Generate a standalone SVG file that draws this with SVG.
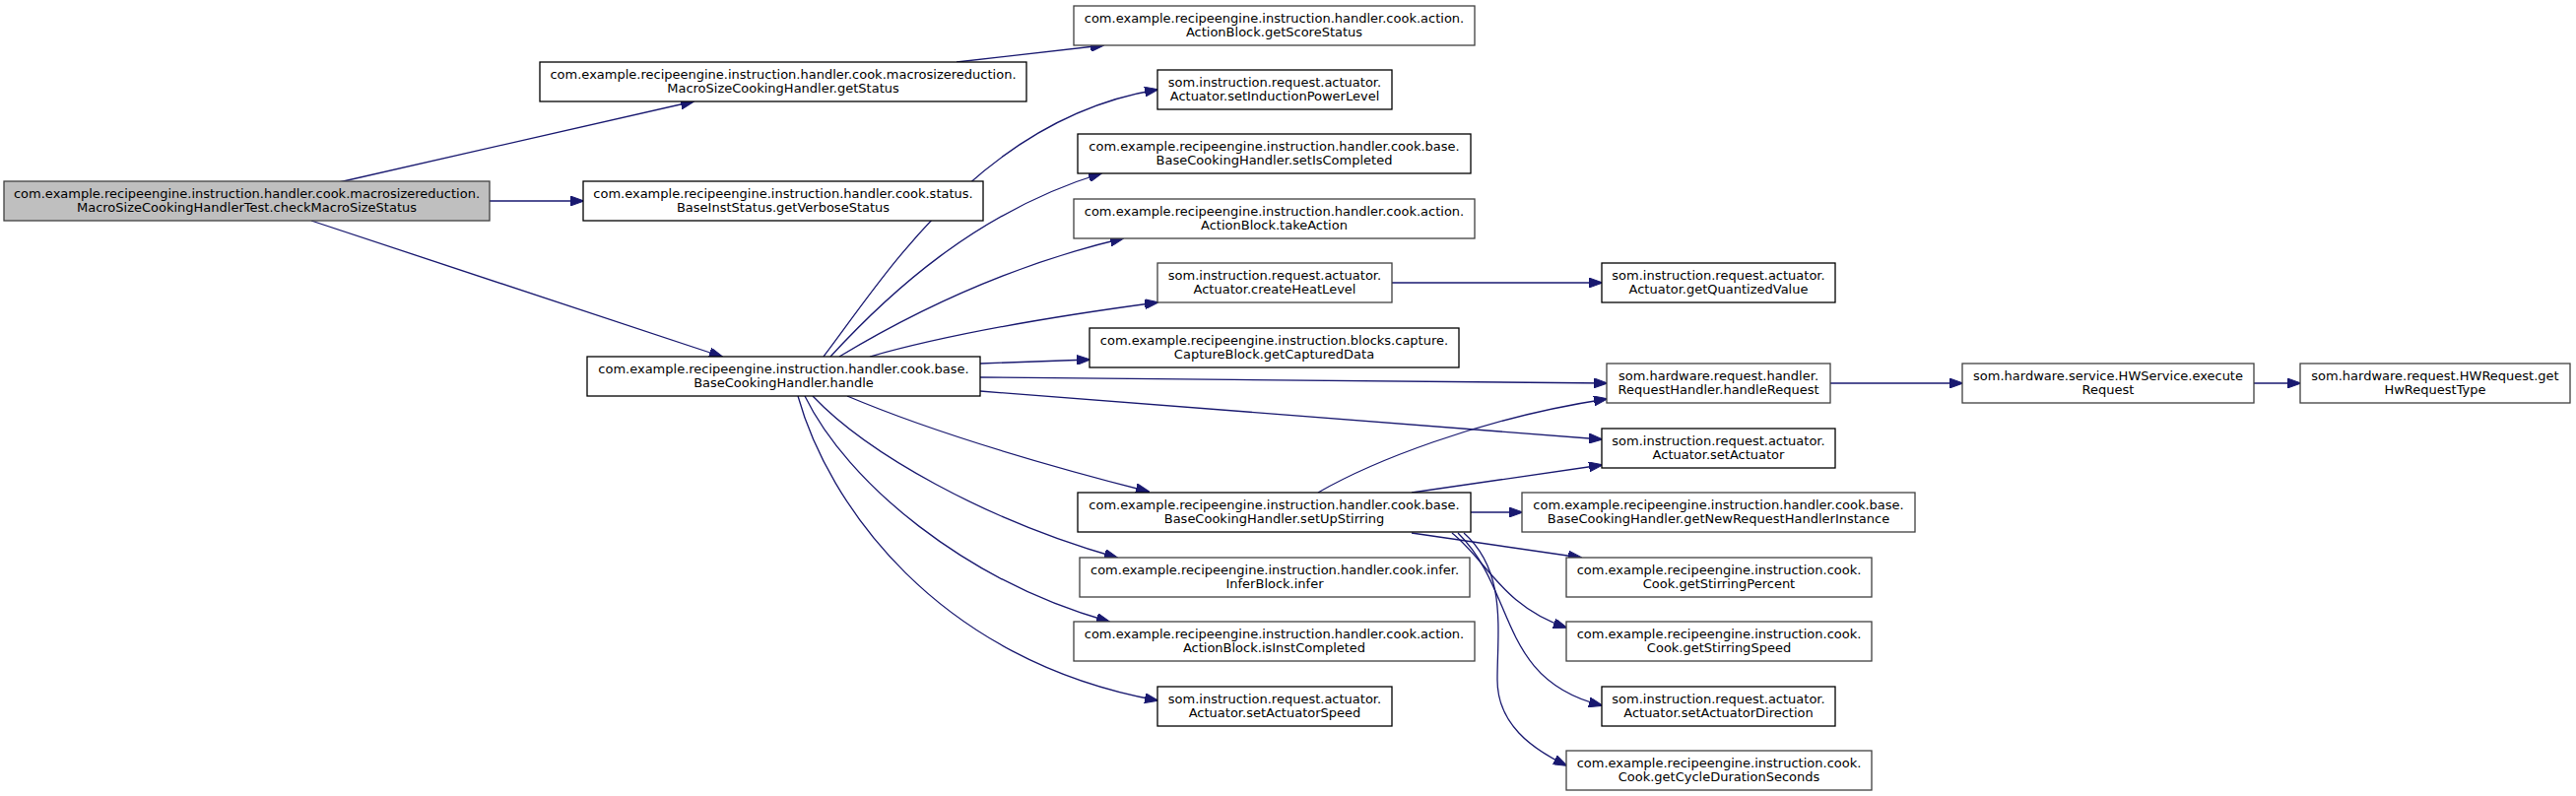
<svg xmlns="http://www.w3.org/2000/svg" width="2615" height="808" viewBox="0 0 2615 808">
<style>
.n rect{fill:#ffffff;stroke:#000000;stroke-width:1.3}
.n.g rect{stroke:#404040}
.n.root rect{fill:#bfbfbf;stroke:#404040}
.n text{font-family:"DejaVu Sans","Liberation Sans",sans-serif;font-size:13px;fill:#000000;text-anchor:middle}
#edges path{fill:none;stroke:#191970;stroke-width:1.3;marker-end:url(#arr)}
</style>
<defs>
<marker id="arr" markerUnits="userSpaceOnUse" markerWidth="14" markerHeight="10" refX="13" refY="5" orient="auto">
<path d="M0,0 L14,5 L0,10 Z" fill="#191970" stroke="#191970" stroke-width="1"/>
</marker>
</defs>
<rect x="0" y="0" width="2615" height="808" fill="#ffffff"/>
<g id="edges">
<path d="M344,185 L704,103"/>
<path d="M497,204 L592,204"/>
<path d="M316,224 L733,362"/>
<path d="M971,63 L1120,46"/>
<path d="M836,362 C895,285 995,120 1175,91"/>
<path d="M843,362 C900,300 990,215 1118,176"/>
<path d="M852,362 C930,315 1030,268 1140,242"/>
<path d="M883,362 C960,340 1070,321 1175,307"/>
<path d="M995,369 L1106,365"/>
<path d="M995,383 C1200,385 1450,387 1631,389"/>
<path d="M995,397 L1626,446"/>
<path d="M860,402 C950,440 1060,472 1166,499"/>
<path d="M825,402 C880,460 1000,528 1134,566"/>
<path d="M817,402 C860,490 980,590 1126,631"/>
<path d="M810,402 C840,510 950,670 1175,711"/>
<path d="M1413,287 L1626,287"/>
<path d="M1338,500 C1390,470 1500,425 1631,405"/>
<path d="M1433,500 L1626,472"/>
<path d="M1493,520 L1545,520"/>
<path d="M1433,541 L1605,566"/>
<path d="M1474,541 C1510,570 1525,615 1590,637"/>
<path d="M1480,541 C1540,600 1520,690 1626,716"/>
<path d="M1486,541 C1530,580 1520,640 1520,690 C1520,735 1555,760 1590,777"/>
<path d="M1858,389 L1992,389"/>
<path d="M2288,389 L2335,389"/>
</g>
<g id="n_root" class="n root"><rect x="4" y="184" width="493" height="40"/><text x="250.5" y="200.5">com.example.recipeengine.instruction.handler.cook.macrosizereduction.</text><text x="250.5" y="214.5">MacroSizeCookingHandlerTest.checkMacroSizeStatus</text></g>
<g id="n_getStatus" class="n"><rect x="548" y="63" width="494" height="40"/><text x="795" y="79.5">com.example.recipeengine.instruction.handler.cook.macrosizereduction.</text><text x="795" y="93.5">MacroSizeCookingHandler.getStatus</text></g>
<g id="n_getVerboseStatus" class="n"><rect x="592" y="184" width="406" height="40"/><text x="795" y="200.5">com.example.recipeengine.instruction.handler.cook.status.</text><text x="795" y="214.5">BaseInstStatus.getVerboseStatus</text></g>
<g id="n_handle" class="n"><rect x="596" y="362" width="399" height="40"/><text x="795.5" y="378.5">com.example.recipeengine.instruction.handler.cook.base.</text><text x="795.5" y="392.5">BaseCookingHandler.handle</text></g>
<g id="n_getScoreStatus" class="n g"><rect x="1090" y="6" width="407" height="40"/><text x="1293.5" y="22.5">com.example.recipeengine.instruction.handler.cook.action.</text><text x="1293.5" y="36.5">ActionBlock.getScoreStatus</text></g>
<g id="n_setInductionPowerLevel" class="n"><rect x="1175" y="71" width="238" height="40"/><text x="1294" y="87.5">som.instruction.request.actuator.</text><text x="1294" y="101.5">Actuator.setInductionPowerLevel</text></g>
<g id="n_setIsCompleted" class="n"><rect x="1094" y="136" width="399" height="40"/><text x="1293.5" y="152.5">com.example.recipeengine.instruction.handler.cook.base.</text><text x="1293.5" y="166.5">BaseCookingHandler.setIsCompleted</text></g>
<g id="n_takeAction" class="n g"><rect x="1090" y="202" width="407" height="40"/><text x="1293.5" y="218.5">com.example.recipeengine.instruction.handler.cook.action.</text><text x="1293.5" y="232.5">ActionBlock.takeAction</text></g>
<g id="n_createHeatLevel" class="n g"><rect x="1175" y="267" width="238" height="40"/><text x="1294" y="283.5">som.instruction.request.actuator.</text><text x="1294" y="297.5">Actuator.createHeatLevel</text></g>
<g id="n_getCapturedData" class="n"><rect x="1106" y="333" width="375" height="40"/><text x="1293.5" y="349.5">com.example.recipeengine.instruction.blocks.capture.</text><text x="1293.5" y="363.5">CaptureBlock.getCapturedData</text></g>
<g id="n_setUpStirring" class="n"><rect x="1094" y="500" width="399" height="40"/><text x="1293.5" y="516.5">com.example.recipeengine.instruction.handler.cook.base.</text><text x="1293.5" y="530.5">BaseCookingHandler.setUpStirring</text></g>
<g id="n_infer" class="n g"><rect x="1096" y="566" width="396" height="40"/><text x="1294" y="582.5">com.example.recipeengine.instruction.handler.cook.infer.</text><text x="1294" y="596.5">InferBlock.infer</text></g>
<g id="n_isInstCompleted" class="n g"><rect x="1090" y="631" width="407" height="40"/><text x="1293.5" y="647.5">com.example.recipeengine.instruction.handler.cook.action.</text><text x="1293.5" y="661.5">ActionBlock.isInstCompleted</text></g>
<g id="n_setActuatorSpeed" class="n"><rect x="1175" y="697" width="238" height="40"/><text x="1294" y="713.5">som.instruction.request.actuator.</text><text x="1294" y="727.5">Actuator.setActuatorSpeed</text></g>
<g id="n_getQuantizedValue" class="n"><rect x="1626" y="267" width="237" height="40"/><text x="1744.5" y="283.5">som.instruction.request.actuator.</text><text x="1744.5" y="297.5">Actuator.getQuantizedValue</text></g>
<g id="n_handleRequest" class="n g"><rect x="1631" y="369" width="227" height="40"/><text x="1744.5" y="385.5">som.hardware.request.handler.</text><text x="1744.5" y="399.5">RequestHandler.handleRequest</text></g>
<g id="n_setActuator" class="n"><rect x="1626" y="435" width="237" height="40"/><text x="1744.5" y="451.5">som.instruction.request.actuator.</text><text x="1744.5" y="465.5">Actuator.setActuator</text></g>
<g id="n_getNewRequestHandlerInstance" class="n g"><rect x="1545" y="500" width="399" height="40"/><text x="1744.5" y="516.5">com.example.recipeengine.instruction.handler.cook.base.</text><text x="1744.5" y="530.5">BaseCookingHandler.getNewRequestHandlerInstance</text></g>
<g id="n_getStirringPercent" class="n g"><rect x="1590" y="566" width="310" height="40"/><text x="1745" y="582.5">com.example.recipeengine.instruction.cook.</text><text x="1745" y="596.5">Cook.getStirringPercent</text></g>
<g id="n_getStirringSpeed" class="n g"><rect x="1590" y="631" width="310" height="40"/><text x="1745" y="647.5">com.example.recipeengine.instruction.cook.</text><text x="1745" y="661.5">Cook.getStirringSpeed</text></g>
<g id="n_setActuatorDirection" class="n"><rect x="1626" y="697" width="237" height="40"/><text x="1744.5" y="713.5">som.instruction.request.actuator.</text><text x="1744.5" y="727.5">Actuator.setActuatorDirection</text></g>
<g id="n_getCycleDurationSeconds" class="n g"><rect x="1590" y="762" width="310" height="40"/><text x="1745" y="778.5">com.example.recipeengine.instruction.cook.</text><text x="1745" y="792.5">Cook.getCycleDurationSeconds</text></g>
<g id="n_executeRequest" class="n g"><rect x="1992" y="369" width="296" height="40"/><text x="2140" y="385.5">som.hardware.service.HWService.execute</text><text x="2140" y="399.5">Request</text></g>
<g id="n_getHwRequestType" class="n g"><rect x="2335" y="369" width="274" height="40"/><text x="2472" y="385.5">som.hardware.request.HWRequest.get</text><text x="2472" y="399.5">HwRequestType</text></g>
</svg>
